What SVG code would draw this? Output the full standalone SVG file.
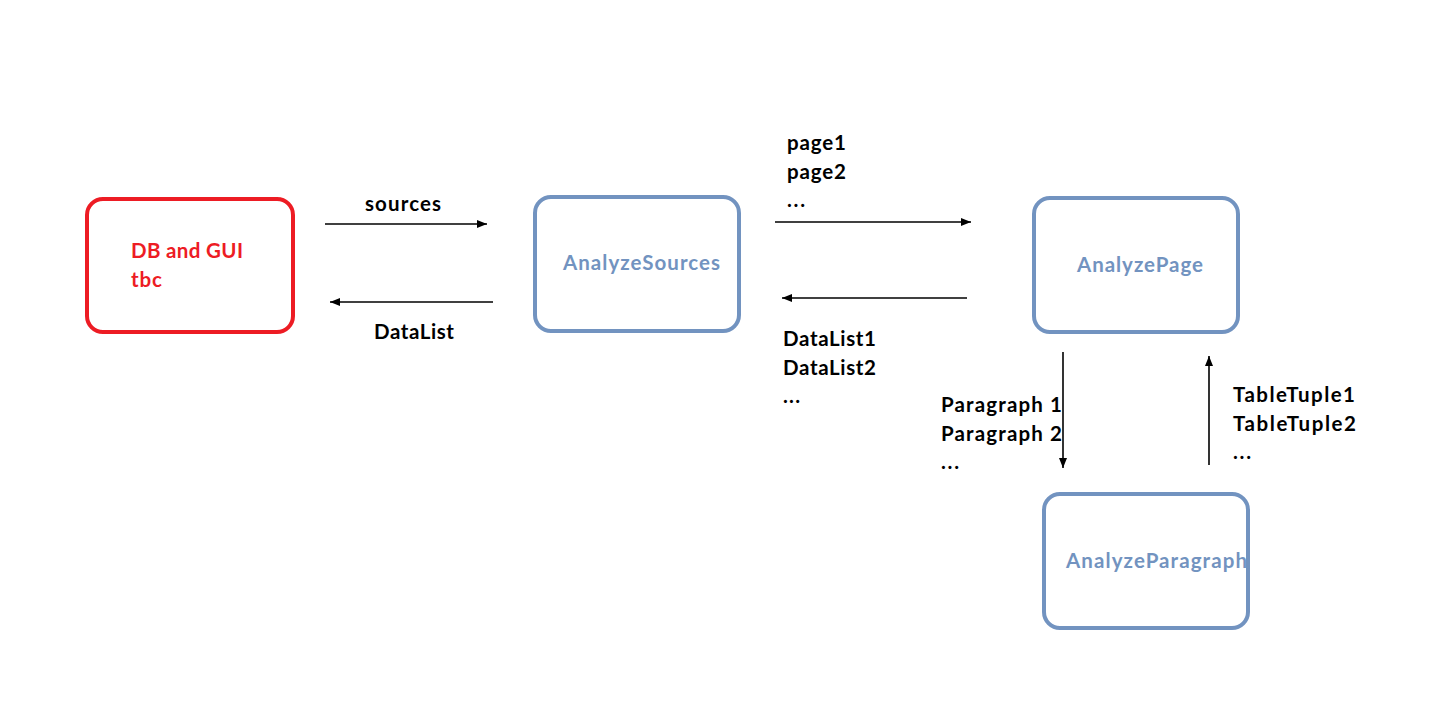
<svg xmlns="http://www.w3.org/2000/svg" width="1432" height="712" viewBox="0 0 1432 712">
<style>
.box{fill:none;stroke-width:4}
.red{stroke:#ED1C24}
.blue{stroke:#7293C0}
.t{font-family:Lato,"Liberation Sans",sans-serif;font-weight:bold;font-size:20.5px}
.lbl{fill:#000}
.rt{fill:#ED1C24}
.bt{fill:#7293C0}
.conn{stroke:#000;stroke-width:1.6;fill:none;marker-end:url(#ah)}
</style>
<defs>
<marker id="ah" viewBox="0 0 10 8" refX="10" refY="4" markerWidth="10" markerHeight="8" markerUnits="userSpaceOnUse" orient="auto">
<path d="M0,0 L10,4 L0,8 z" fill="#000"/>
</marker>
</defs>
<rect width="1432" height="712" fill="#fff"/>
<g id="db-gui">
<rect class="box red" x="87" y="199" width="206" height="133" rx="16"/>
<text class="t rt" x="131" y="258" textLength="112" lengthAdjust="spacing">DB and GUI</text>
<text class="t rt" x="131" y="287" textLength="31" lengthAdjust="spacing">tbc</text>
</g>
<g id="analyze-sources">
<rect class="box blue" x="535" y="197" width="204" height="134" rx="16"/>
<text class="t bt" x="563" y="270" textLength="157" lengthAdjust="spacing">AnalyzeSources</text>
</g>
<g id="analyze-page">
<rect class="box blue" x="1034" y="198" width="204" height="134" rx="16"/>
<text class="t bt" x="1077" y="272" textLength="126" lengthAdjust="spacing">AnalyzePage</text>
</g>
<g id="analyze-paragraph">
<rect class="box blue" x="1044" y="494" width="204" height="134" rx="16"/>
<text class="t bt" x="1066" y="568" textLength="181" lengthAdjust="spacing">AnalyzeParagraph</text>
</g>
<g id="connectors">
<line class="conn" x1="325" y1="224" x2="487" y2="224"/>
<line class="conn" x1="493" y1="302" x2="330" y2="302"/>
<line class="conn" x1="775" y1="222" x2="971" y2="222"/>
<line class="conn" x1="967" y1="298" x2="782" y2="298"/>
<line class="conn" x1="1063" y1="352" x2="1063" y2="468"/>
<line class="conn" x1="1209" y1="465" x2="1209" y2="356"/>
<text class="t lbl" x="365" y="211" textLength="76" lengthAdjust="spacing">sources</text>
<text class="t lbl" x="374" y="339" textLength="80" lengthAdjust="spacing">DataList</text>
<text class="t lbl" x="787" y="150" textLength="59" lengthAdjust="spacing">page1</text>
<text class="t lbl" x="787" y="179" textLength="59" lengthAdjust="spacing">page2</text>
<text class="t lbl" x="787" y="207" textLength="18" lengthAdjust="spacing">...</text>
<text class="t lbl" x="783" y="346" textLength="93" lengthAdjust="spacing">DataList1</text>
<text class="t lbl" x="783" y="375" textLength="93" lengthAdjust="spacing">DataList2</text>
<text class="t lbl" x="783" y="403" textLength="17" lengthAdjust="spacing">...</text>
<text class="t lbl" x="941" y="412" textLength="121" lengthAdjust="spacing">Paragraph 1</text>
<text class="t lbl" x="941" y="441" textLength="121" lengthAdjust="spacing">Paragraph 2</text>
<text class="t lbl" x="941" y="469" textLength="18" lengthAdjust="spacing">...</text>
<text class="t lbl" x="1233" y="402" textLength="122" lengthAdjust="spacing">TableTuple1</text>
<text class="t lbl" x="1233" y="431" textLength="123" lengthAdjust="spacing">TableTuple2</text>
<text class="t lbl" x="1233" y="459" textLength="18" lengthAdjust="spacing">...</text>
</g>
</svg>
